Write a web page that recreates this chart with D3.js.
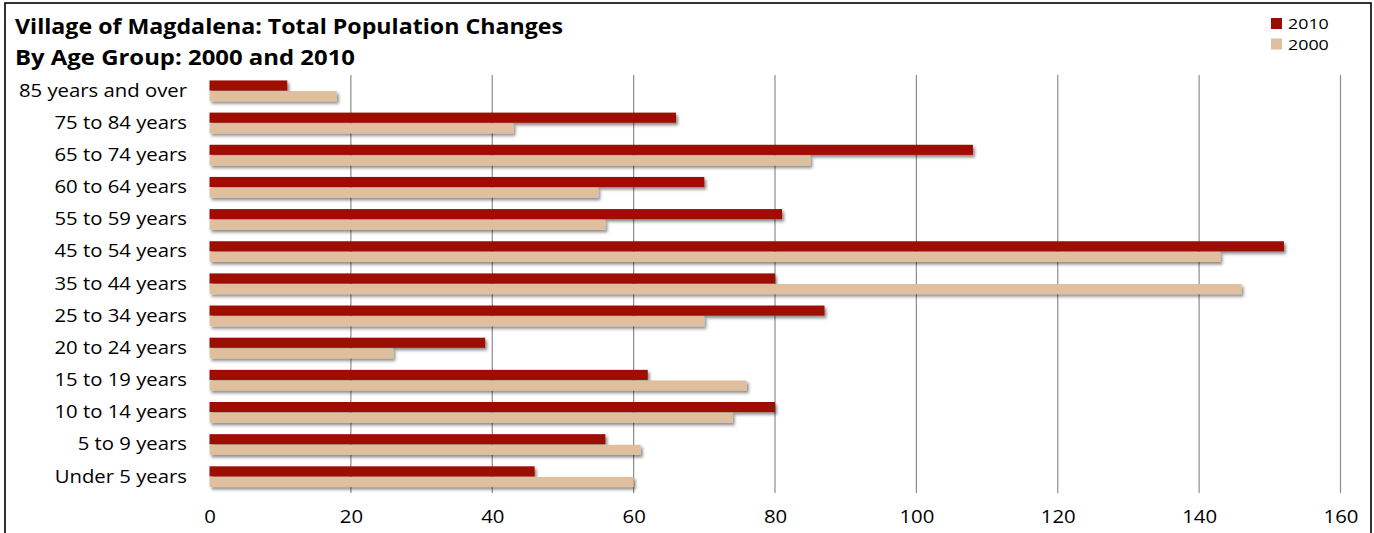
<!DOCTYPE html>
<html>
<head>
<meta charset="utf-8">
<script src="https://cdn.jsdelivr.net/npm/d3@7"></script>
<style>
  html, body { margin: 0; padding: 0; background: #fff; }
  svg { display: block; font-family: "Open Sans", "DejaVu Sans", sans-serif; }
</style>
</head>
<body>
<svg id="chart" width="1374" height="533"></svg>
<script>
// Age groups, top to bottom
const categories = [
  "85 years and over", "75 to 84 years", "65 to 74 years", "60 to 64 years",
  "55 to 59 years", "45 to 54 years", "35 to 44 years", "25 to 34 years",
  "20 to 24 years", "15 to 19 years", "10 to 14 years", "5 to 9 years", "Under 5 years"
];
const seriesNames = ["2010", "2000"];
const values2010 = [11, 66, 108, 70, 81, 152, 80, 87, 39, 62, 80, 56, 46];
const values2000 = [18, 43, 85, 55, 56, 143, 146, 70, 26, 76, 74, 61, 60];
const xTicks = [0, 20, 40, 60, 80, 100, 120, 140, 160];
const colors = { "2010": "#9e0c00", "2000": "#e0bf9f" };

const svg = d3.select("#chart");

// widen text horizontally by a factor, keeping its height
function widen(sel, k) {
  sel.each(function () {
    const w = this.getComputedTextLength();
    d3.select(this).attr("textLength", w * k).attr("lengthAdjust", "spacingAndGlyphs");
  });
}

// drop shadow for bars
const defs = svg.append("defs");
const f = defs.append("filter").attr("id", "shadow")
  .attr("x", "-5%").attr("y", "-50%").attr("width", "115%").attr("height", "220%");
f.append("feDropShadow").attr("dx", 2).attr("dy", 2.5).attr("stdDeviation", 1.4)
  .attr("flood-color", "#000").attr("flood-opacity", 0.45);

// outer frame
svg.append("rect").attr("x", 5).attr("y", 3).attr("width", 1366).attr("height", 540)
  .attr("fill", "none").attr("stroke", "#000").attr("stroke-width", 1.6);

// title
const title = svg.append("g").attr("font-weight", "bold").attr("fill", "#000");
title.append("text").attr("x", 15).attr("y", 34).attr("font-size", 22)
  .attr("textLength", 548).attr("lengthAdjust", "spacingAndGlyphs")
  .text("Village of Magdalena: Total Population Changes");
title.append("text").attr("x", 15).attr("y", 65).attr("font-size", 22)
  .attr("textLength", 340).attr("lengthAdjust", "spacingAndGlyphs")
  .text("By Age Group: 2000 and 2010");

const x = d3.scaleLinear().domain([0, 160]).range([209.5, 1340.5]);
const y = d3.scaleBand().domain(categories).range([75, 493]).paddingInner(0).paddingOuter(0);
const groupH = y.bandwidth() * 0.66;
const y1 = d3.scaleBand().domain(seriesNames).range([0, groupH]);

// gridlines
svg.append("g").selectAll("line").data(xTicks.filter(d => d > 0)).join("line")
  .attr("x1", d => x(d)).attr("x2", d => x(d))
  .attr("y1", 75).attr("y2", 493)
  .attr("stroke", "#8c8c8c").attr("stroke-width", 1.2);

// value axis labels
const xAxis = d3.axisBottom(x).tickValues(xTicks).tickSize(0).tickPadding(0);
const xg = svg.append("g").attr("transform", "translate(0,513)").call(xAxis);
xg.select(".domain").remove();
xg.selectAll("text").attr("font-size", 18).attr("font-family", "Open Sans, sans-serif")
  .attr("fill", "#000").attr("dy", "0.55em").call(widen, 1.13);

// category axis line
svg.append("line").attr("x1", x(0)).attr("x2", x(0)).attr("y1", 75).attr("y2", 493)
  .attr("stroke", "#cfcfcf").attr("stroke-width", 2).attr("filter", "url(#shadow)");

// bars
const rows = categories.map((c, i) => ({ cat: c, vals: [
  { s: "2010", v: values2010[i] }, { s: "2000", v: values2000[i] }
]}));
const gRow = svg.append("g").selectAll("g").data(rows).join("g")
  .attr("transform", d => `translate(0,${y(d.cat) + (y.bandwidth() - groupH) / 2})`);
gRow.selectAll("rect").data(d => d.vals).join("rect")
  .attr("x", x(0))
  .attr("y", d => y1(d.s))
  .attr("width", d => x(d.v) - x(0))
  .attr("height", y1.bandwidth() - 0.5)
  .attr("fill", d => colors[d.s])
  .attr("filter", "url(#shadow)");

// category labels
const yAxis = d3.axisLeft(y).tickSize(0).tickPadding(0);
const yg = svg.append("g").attr("transform", "translate(187,0)").call(yAxis);
yg.select(".domain").remove();
yg.selectAll("text").attr("font-size", 17.5).attr("font-family", "Open Sans, sans-serif")
  .attr("fill", "#000").call(widen, 1.16);

// legend
const lg = svg.append("g").attr("transform", "translate(1271,18)");
const li = lg.selectAll("g").data(seriesNames).join("g")
  .attr("transform", (d, i) => `translate(0,${i * 20.5})`);
li.append("rect").attr("width", 11).attr("height", 11).attr("fill", d => colors[d]);
li.append("text").attr("x", 17).attr("y", 11).attr("font-size", 15).attr("fill", "#000")
  .text(d => d).call(widen, 1.19);
</script>
</body>
</html>
